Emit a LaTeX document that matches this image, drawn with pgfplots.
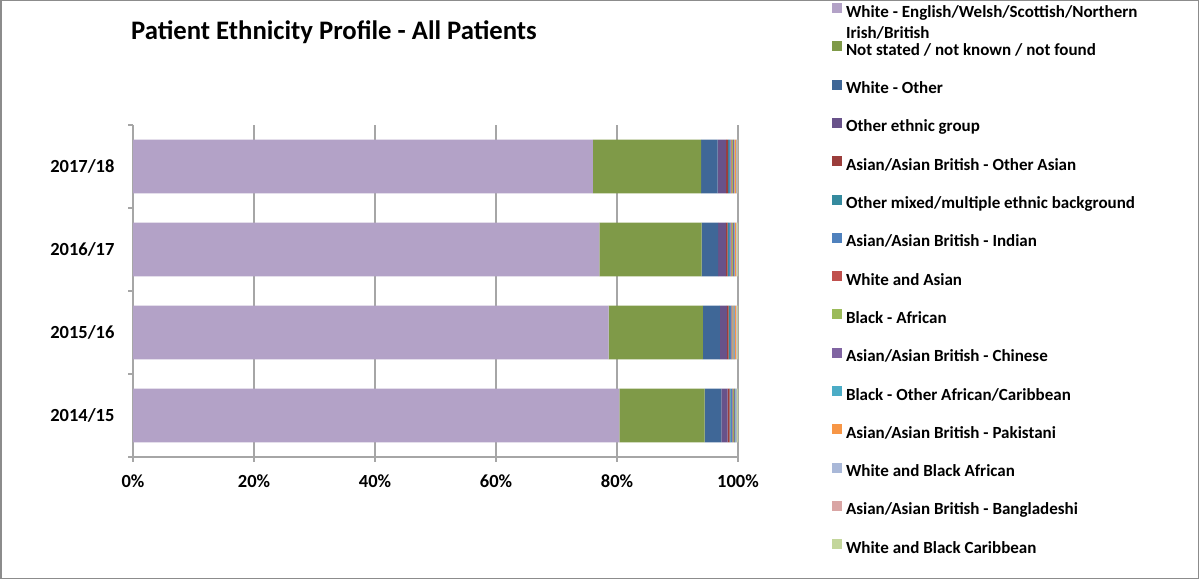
\documentclass[border=0pt]{standalone}
\usepackage{pgfplots}
\pgfplotsset{compat=1.18}
\usepackage{pgfplotstable}
\usepackage{fontspec}
\setmainfont{Carlito}

% series colours
\definecolor{cWBr}{HTML}{B3A2C7}
\definecolor{cNS}{HTML}{7F9A48}
\definecolor{cWO}{HTML}{3F6797}
\definecolor{cOth}{HTML}{68528A}
\definecolor{cOAsn}{HTML}{9B3D3B}
\definecolor{cOMix}{HTML}{358A9E}
\definecolor{cInd}{HTML}{4F81BD}
\definecolor{cWAsn}{HTML}{C0504D}
\definecolor{cBAfr}{HTML}{9BBB59}
\definecolor{cChn}{HTML}{8064A2}
\definecolor{cBOth}{HTML}{4BACC6}
\definecolor{cPak}{HTML}{F79646}
\definecolor{cWBA}{HTML}{A9B8D8}
\definecolor{cBng}{HTML}{D9A5A4}
\definecolor{cWBC}{HTML}{C3D69B}
\definecolor{gridgray}{RGB}{166,166,166}
\definecolor{framegray}{RGB}{140,140,140}

% share of patients (%) per year; pos 1 = 2014/15 ... 4 = 2017/18
\pgfplotstableread{
pos wbr  ns   wo   oth  oasn omix ind  wasn bafr chn  both pak  wba  bng  wbc
1   80.4 14.1 2.75 1.05 0.30 0.20 0.25 0.15 0.15 0.15 0.10 0.10 0.10 0.05 0.15
2   78.6 15.6 2.80 1.15 0.30 0.20 0.25 0.15 0.20 0.15 0.10 0.15 0.10 0.10 0.15
3   77.1 16.9 2.70 1.30 0.30 0.20 0.30 0.15 0.20 0.20 0.10 0.20 0.10 0.10 0.15
4   76.0 17.9 2.75 1.40 0.30 0.20 0.25 0.15 0.20 0.15 0.10 0.30 0.10 0.10 0.10
}\ethnicity

\newcommand{\lblfont}{\fontsize{18.5bp}{22bp}\selectfont\bfseries}
\newcommand{\legfont}{\fontsize{17bp}{21bp}\selectfont\bfseries}

\begin{document}
\begin{tikzpicture}
\useasboundingbox (0,0) rectangle (1199bp,579bp);
\draw[framegray, line width=1.5bp] (0.75bp,0.75bp) rectangle (1198.25bp,578.25bp);

\node[anchor=base, font={\fontsize{26.7bp}{32bp}\selectfont\bfseries}] at (334bp,539bp)
  {Patient Ethnicity Profile - All Patients};

\begin{axis}[
  at={(133bp,122bp)}, anchor=south west,
  scale only axis, width=605bp, height=332bp,
  xbar stacked, bar width=0.65,
  xmin=0, xmax=100, ymin=0.5, ymax=4.5,
  axis x line*=bottom, axis y line*=left,
  axis line style={gridgray, line width=1.3bp},
  tick align=outside,
  xtick={0,20,40,60,80,100},
  xticklabels={0\%,20\%,40\%,60\%,80\%,100\%},
  xmajorgrids,
  grid style={gridgray, line width=1.3bp},
  major tick length=5bp,
  tick style={gridgray, line width=1.3bp},
  ytick={0.5,1.5,2.5,3.5,4.5},
  yticklabels={},
  extra y ticks={1,2,3,4},
  extra y tick labels={2014/15,2015/16,2016/17,2017/18},
  extra y tick style={major tick length=0pt, grid=none},
  xticklabel style={font=\lblfont, yshift=-9bp},
  yticklabel style={font=\lblfont, xshift=-15bp},
  legend cell align=left,
  legend style={
    at={(axis description cs:1.1554,1.3674)}, anchor=north west,
    draw=none, fill=none, inner sep=0pt, outer sep=0pt,
    row sep=20.3bp, column sep=4bp,
    nodes={inner sep=0pt, text height=12bp, text depth=4bp, font=\legfont},
  },
  legend image code/.code={\path[#1, draw=none] (0bp,0bp) rectangle (10bp,10bp);},
  every axis plot/.append style={draw=none},
]
\addplot[fill=cWBr]  table[x=wbr,  y=pos]{\ethnicity};
\addlegendentry{\smash{\parbox[t]{330bp}{White - English/Welsh/Scottish/Northern\\Irish/British}}}
\addplot[fill=cNS]   table[x=ns,   y=pos]{\ethnicity};
\addlegendentry{Not stated / not known / not found}
\addplot[fill=cWO]   table[x=wo,   y=pos]{\ethnicity};
\addlegendentry{White - Other}
\addplot[fill=cOth]  table[x=oth,  y=pos]{\ethnicity};
\addlegendentry{Other ethnic group}
\addplot[fill=cOAsn] table[x=oasn, y=pos]{\ethnicity};
\addlegendentry{Asian/Asian British - Other Asian}
\addplot[fill=cOMix] table[x=omix, y=pos]{\ethnicity};
\addlegendentry{Other mixed/multiple ethnic background}
\addplot[fill=cInd]  table[x=ind,  y=pos]{\ethnicity};
\addlegendentry{Asian/Asian British - Indian}
\addplot[fill=cWAsn] table[x=wasn, y=pos]{\ethnicity};
\addlegendentry{White and Asian}
\addplot[fill=cBAfr] table[x=bafr, y=pos]{\ethnicity};
\addlegendentry{Black - African}
\addplot[fill=cChn]  table[x=chn,  y=pos]{\ethnicity};
\addlegendentry{Asian/Asian British - Chinese}
\addplot[fill=cBOth] table[x=both, y=pos]{\ethnicity};
\addlegendentry{Black - Other African/Caribbean}
\addplot[fill=cPak]  table[x=pak,  y=pos]{\ethnicity};
\addlegendentry{Asian/Asian British - Pakistani}
\addplot[fill=cWBA]  table[x=wba,  y=pos]{\ethnicity};
\addlegendentry{White and Black African}
\addplot[fill=cBng]  table[x=bng,  y=pos]{\ethnicity};
\addlegendentry{Asian/Asian British - Bangladeshi}
\addplot[fill=cWBC]  table[x=wbc,  y=pos]{\ethnicity};
\addlegendentry{White and Black Caribbean}
\end{axis}
\end{tikzpicture}
\end{document}
